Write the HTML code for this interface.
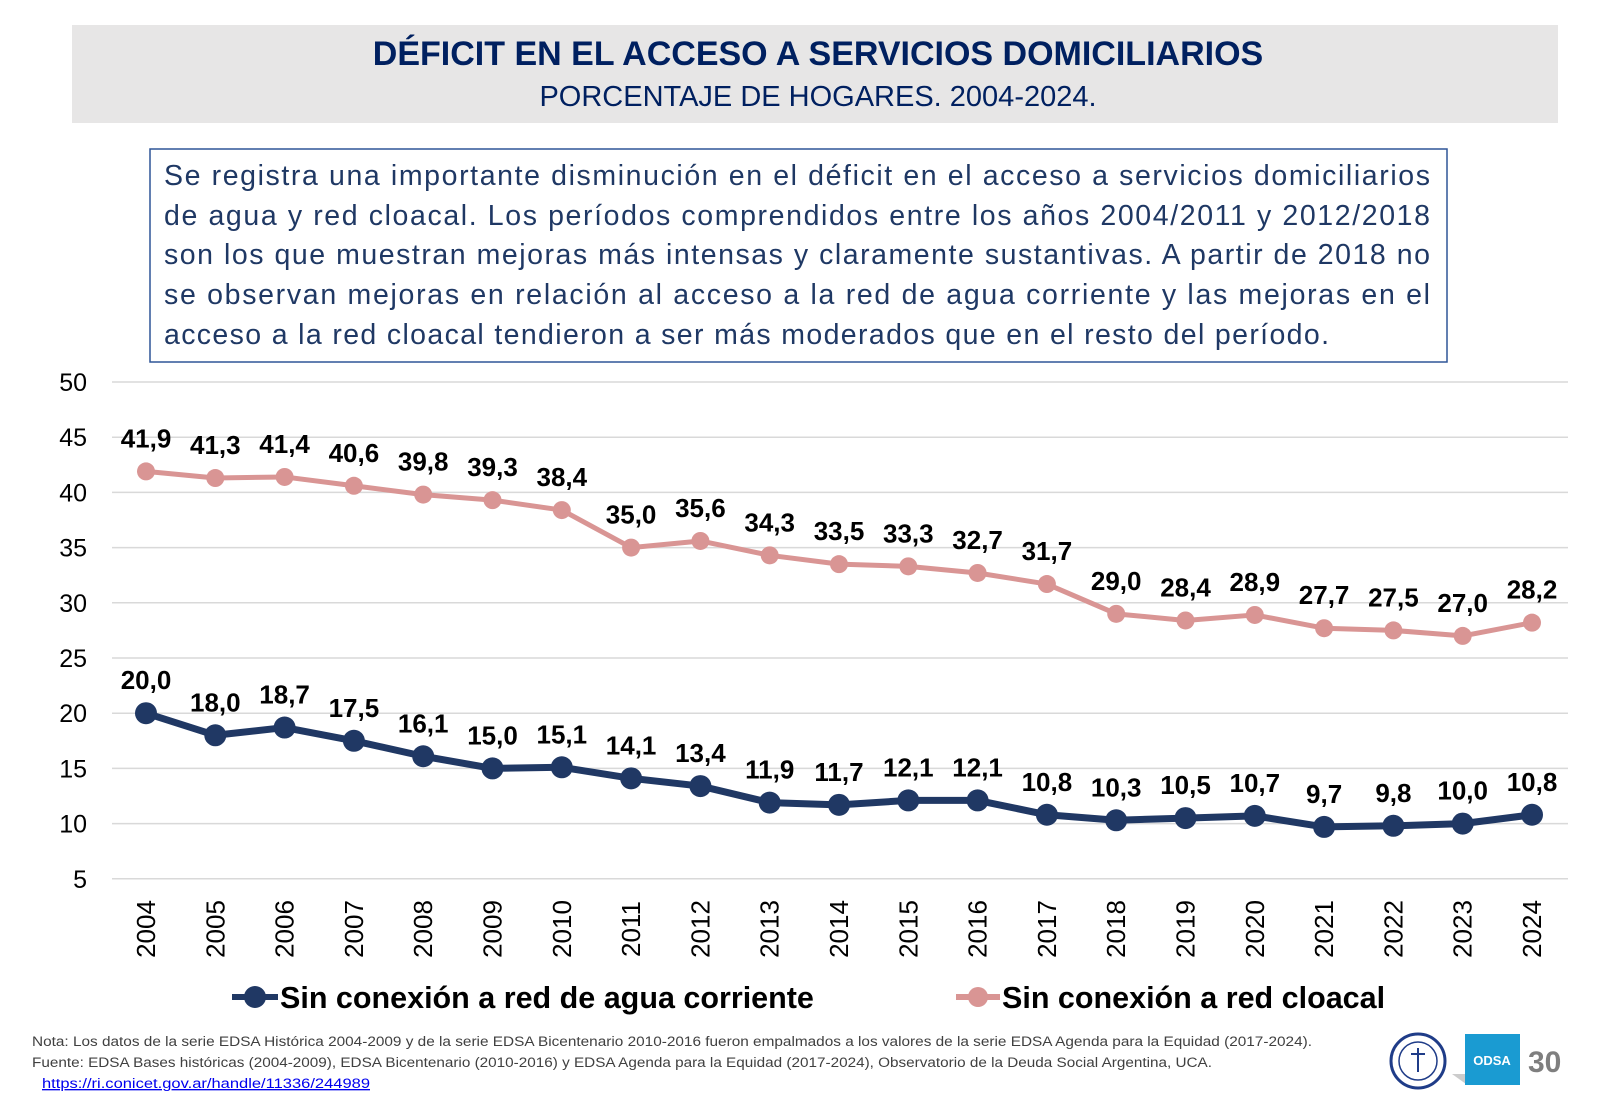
<!DOCTYPE html>
<html><head><meta charset="utf-8"><style>
body{margin:0;width:1600px;height:1108px;background:#fff;overflow:hidden;font-family:"Liberation Sans",sans-serif}
</style></head><body>
<svg width="1600" height="1108" viewBox="0 0 1600 1108" xmlns="http://www.w3.org/2000/svg" font-family="Liberation Sans, sans-serif">
<rect x="72" y="25" width="1486" height="98" fill="#e7e6e6"/>
<text x="818" y="65" text-anchor="middle" font-size="34" font-weight="bold" fill="#002060">DÉFICIT EN EL ACCESO A SERVICIOS DOMICILIARIOS</text>
<text x="818" y="106" text-anchor="middle" font-size="29" fill="#002060">PORCENTAJE DE HOGARES. 2004-2024.</text>
<rect x="150" y="149" width="1297" height="213" fill="#fff" stroke="#2f5597" stroke-width="1.5"/>
<g font-size="28.5" fill="#1f3864">
<text x="164" y="185" textLength="1266" lengthAdjust="spacing">Se registra una importante disminución en el déficit en el acceso a servicios domiciliarios</text>
<text x="164" y="225" textLength="1266" lengthAdjust="spacing">de agua y red cloacal. Los períodos comprendidos entre los años  2004/2011 y 2012/2018</text>
<text x="164" y="264" textLength="1266" lengthAdjust="spacing">son los que muestran mejoras más intensas y claramente sustantivas. A partir de 2018 no</text>
<text x="164" y="304" textLength="1266" lengthAdjust="spacing">se observan mejoras en relación al acceso a la red de agua corriente y las mejoras en el</text>
<text x="164" y="344" textLength="1165" lengthAdjust="spacing">acceso a la red cloacal tendieron a ser más moderados que en el resto del período.</text>
</g>
<g id="grid" stroke="#d9d9d9" stroke-width="1.5"></g>
<g id="ylab" font-size="25" fill="#000" text-anchor="end"></g>
<g id="xlab" font-size="26" fill="#000"></g>
<g id="s1"></g><g id="s2"></g>
<g id="lab" font-size="26" font-weight="bold" fill="#000" text-anchor="middle"></g>
<line x1="232" y1="997" x2="278" y2="997" stroke="#203864" stroke-width="6"/><circle cx="255" cy="997" r="11" fill="#203864"/>
<text x="280" y="1008" font-size="30.5" font-weight="bold">Sin conexión a red de agua corriente</text>
<line x1="956" y1="997" x2="1000" y2="997" stroke="#d99594" stroke-width="6"/><circle cx="978" cy="997" r="10" fill="#d99594"/>
<text x="1002" y="1008" font-size="30.5" font-weight="bold">Sin conexión a red cloacal</text>
<g font-size="13.5" fill="#404040">
<text x="32" y="1046" textLength="1280" lengthAdjust="spacingAndGlyphs">Nota: Los datos de la serie EDSA Histórica 2004-2009 y de la serie EDSA Bicentenario 2010-2016 fueron empalmados a los valores de la serie EDSA Agenda para la Equidad (2017-2024).</text>
<text x="32" y="1067" textLength="1180" lengthAdjust="spacingAndGlyphs">Fuente: EDSA Bases históricas (2004-2009), EDSA Bicentenario (2010-2016) y EDSA Agenda para la Equidad (2017-2024), Observatorio de la Deuda Social Argentina, UCA.</text>
<text x="42" y="1088" fill="#0000ee" text-decoration="underline" textLength="328" lengthAdjust="spacingAndGlyphs">https://ri.conicet.gov.ar/handle/11336/244989</text>
</g>
<circle cx="1418" cy="1061" r="27" fill="#fff" stroke="#1f3c88" stroke-width="3"/>
<circle cx="1418" cy="1061" r="19" fill="none" stroke="#1f3c88" stroke-width="1.5"/>
<line x1="1418" y1="1048" x2="1418" y2="1072" stroke="#1f3c88" stroke-width="2"/><line x1="1411" y1="1054" x2="1425" y2="1054" stroke="#1f3c88" stroke-width="2"/>
<polygon points="1452,1074 1466,1084 1466,1074" fill="#ccc"/>
<rect x="1465" y="1034" width="55" height="51" fill="#1a9bd2"/>
<text x="1492" y="1065" text-anchor="middle" font-size="13" font-weight="bold" fill="#fff">ODSA</text>
<text x="1528" y="1072" font-size="30" font-weight="bold" fill="#7f7f7f">30</text>
</svg>
<script>
const ns="http://www.w3.org/2000/svg";
function el(p,t,a,txt){const e=document.createElementNS(ns,t);for(const k in a)e.setAttribute(k,a[k]);if(txt!==undefined)e.textContent=txt;document.getElementById(p).appendChild(e);}
const Y=v=>382+(50-v)*11.04, X=i=>146+i*69.3;
for(let v=5;v<=50;v+=5){el("grid","line",{x1:112,x2:1568,y1:Y(v),y2:Y(v)});el("ylab","text",{x:87,y:Y(v)+9},v);}
for(let i=0;i<21;i++){const x=X(i)+9,y=929;el("xlab","text",{x:x,y:y,transform:`rotate(-90 ${x} ${y})`,"text-anchor":"middle"},2004+i);}
const a=[20.0,18.0,18.7,17.5,16.1,15.0,15.1,14.1,13.4,11.9,11.7,12.1,12.1,10.8,10.3,10.5,10.7,9.7,9.8,10.0,10.8];
const c=[41.9,41.3,41.4,40.6,39.8,39.3,38.4,35.0,35.6,34.3,33.5,33.3,32.7,31.7,29.0,28.4,28.9,27.7,27.5,27.0,28.2];
function series(id,d,col,w,r){el(id,"polyline",{points:d.map((v,i)=>X(i)+","+Y(v)).join(" "),fill:"none",stroke:col,"stroke-width":w,"stroke-linejoin":"round"});
d.forEach((v,i)=>{el(id,"circle",{cx:X(i),cy:Y(v),r:r,fill:col});el("lab","text",{x:X(i),y:Y(v)-24},v.toFixed(1).replace(".",","));});}
series("s2",c,"#d99594",5,9);series("s1",a,"#203864",7,11);
</script>
</body></html>
